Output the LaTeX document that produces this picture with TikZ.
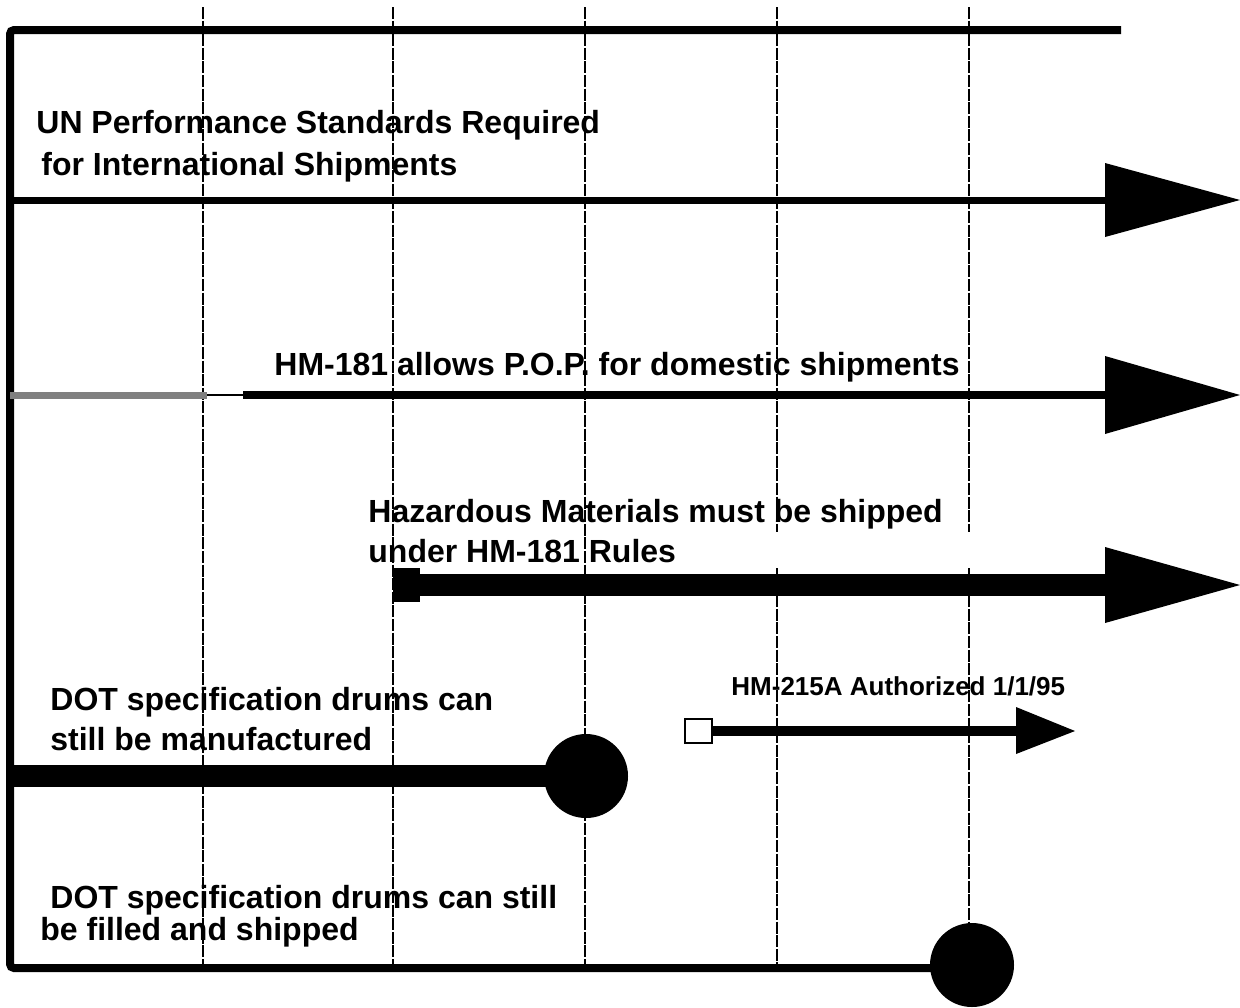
\documentclass[tikz,border=0pt]{standalone}
\usepackage{fontspec}
\setmainfont{Liberation Sans}
\begin{document}
\begin{tikzpicture}[x=0.5pt,y=-0.5pt,
  grid/.style={black, line width=0.7pt, dash pattern=on 6pt off 0.8pt},
  lbl/.style={anchor=base west, inner sep=0pt, font=\fontsize{16}{19}\selectfont\bfseries},
  smalllbl/.style={anchor=base west, inner sep=0pt, font=\fontsize{13}{16}\selectfont\bfseries},
  framepath/.style={line width=4pt},
  headfill/.style={fill=black},
  bigdot/.style={circle, fill=black, minimum size=42pt, inner sep=0pt},
]
\useasboundingbox (0,0) rectangle (1240,1007);
% grid lines
\draw[grid] (203,7) coordinate (g1t) -- (203,968) coordinate (g1b);
\draw[grid] (393,7) coordinate (g2t) -- (393,968) coordinate (g2b);
\draw[grid] (585,7) coordinate (g3t) -- (585,968) coordinate (g3b);
\draw[grid] (777,7) coordinate (g4t) -- (777,532) coordinate (g4m);
\draw[grid] (777,568) coordinate (g4n) -- (777,968) coordinate (g4b);
\draw[grid] (969,7) coordinate (g5t) -- (969,532) coordinate (g5m);
\draw[grid] (969,568) coordinate (g5n) -- (969,968) coordinate (g5b);
% row 6 dot (drawn first so frame line joins it)
\node[bigdot] (dot6) at (972,965) {};
% frame with bottom timeline (row 6)
\coordinate (tr) at (1121,30);
\coordinate (tl) at (10,30);
\coordinate (bl) at (10,968);
\coordinate (r6e) at (dot6.center |- bl);
\draw[framepath, rounded corners=2pt] (tr) -- (tl) -- (bl) -- (r6e);
% row 1: UN
\coordinate (r1s) at (10,200);
\coordinate (r1b) at (1106,200);
\coordinate (r1t) at (1240,200);
\draw[line width=3.5pt] (r1s) -- (r1b);
\fill[headfill] (1105,163) -- (r1t) -- (1105,237) -- cycle;
\node[lbl] (un1) at (36,133) {UN Performance Standards Required};
\node[lbl] (un2) at (41,175) {for International Shipments};
% row 2: HM-181 P.O.P.
\coordinate (r2s) at (10,395);
\coordinate (r2g) at (207,395);
\coordinate (r2k) at (243,395);
\coordinate (r2b) at (1106,395);
\coordinate (r2t) at (1240,395);
\draw[line width=3.5pt, color={rgb,255:red,128;green,128;blue,128}] (r2s) -- (r2g);
\draw[line width=1.25pt] (r2g) -- (r2k);
\draw[line width=4pt] (r2k) -- (r2b);
\fill[headfill] (1105,356) -- (r2t) -- (1105,434) -- cycle;
\node[lbl] (pop) at (274,375) {HM-181 allows P.O.P. for domestic shipments};
% row 3: Hazardous materials
\node[fill=black, minimum width=13.5pt, minimum height=17pt, inner sep=0pt] (sq3) at (406.5,585) {};
\coordinate (r3b) at (1106,585);
\coordinate (r3t) at (1240,585);
\draw[line width=11pt] (sq3.center) -- (r3b);
\fill[headfill] (1105,547) -- (r3t) -- (1105,623) -- cycle;
\node[lbl] (hz1) at (368,522) {Hazardous Materials must be shipped};
\node[lbl] (hz2) at (368,562) {under HM-181 Rules};
% row 4: HM-215A
\node[draw, fill=white, line width=0.75pt, minimum width=13.5pt, minimum height=12pt, inner sep=0pt] (sq4) at (698.5,731) {};
\coordinate (r4b) at (1017,731);
\coordinate (r4t) at (1075,731);
\draw[line width=5pt] (sq4.east) -- (r4b);
\fill[headfill] (1016,707) -- (r4t) -- (1016,754) -- cycle;
\node[smalllbl] (hm215) at (731,695) {HM-215A Authorized 1/1/95};
% row 5: DOT manufactured
\node[bigdot] (dot5) at (586,776) {};
\coordinate (r5s) at (10,776);
\draw[line width=11pt] (r5s) -- (dot5.center);
\node[lbl] (dm1) at (50,710) {DOT specification drums can};
\node[lbl] (dm2) at (50,750) {still be manufactured};
% row 6 labels
\node[lbl] (df1) at (50,908) {DOT specification drums can still};
\node[lbl] (df2) at (40,940) {be filled and shipped};
\end{tikzpicture}
\end{document}
